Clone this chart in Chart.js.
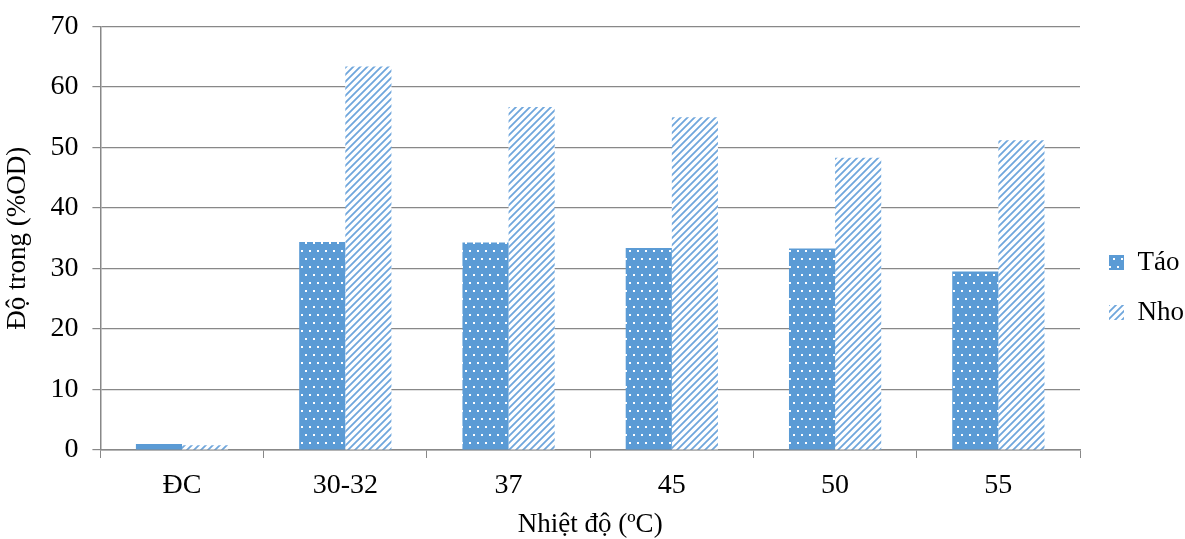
<!DOCTYPE html>
<html>
<head>
<meta charset="utf-8">
<script src="https://cdn.jsdelivr.net/npm/chart.js"></script>
<style>
  html, body { margin: 0; padding: 0; background: #fff; }
  #wrap { width: 1185px; height: 539px; }
</style>
</head>
<body>
<div id="wrap"><canvas id="myChart" width="1185" height="539"></canvas></div>
<script>
    const categories = ['ĐC', '30-32', '37', '45', '50', '55'];
    const taoValues = [1.0, 34.4, 34.3, 33.4, 33.3, 29.5];
    const nhoValues = [0.8, 63.4, 56.7, 55.0, 48.3, 51.2];
    const yTicks = [0, 10, 20, 30, 40, 50, 60, 70];

    const blue = '#5B9BD5';

    // dotted fill for Táo
    function dotPattern() {
        const c = document.createElement('canvas');
        c.width = 8; c.height = 16;
        const g = c.getContext('2d');
        g.fillStyle = blue;
        g.fillRect(0, 0, 8, 16);
        g.fillStyle = '#fff';
        g.fillRect(1, 2, 2, 2);
        g.fillRect(5, 10, 2, 2);
        return g.createPattern(c, 'repeat');
    }

    // diagonal stripes for Nho
    function stripePattern() {
        const c = document.createElement('canvas');
        c.width = 7; c.height = 7;
        const g = c.getContext('2d');
        g.fillStyle = '#fff';
        g.fillRect(0, 0, 7, 7);
        g.strokeStyle = '#6FA6DC';
        g.lineWidth = 1.8;
        g.beginPath();
        g.moveTo(0, 7); g.lineTo(7, 0);
        g.moveTo(-3.5, 3.5); g.lineTo(3.5, -3.5);
        g.moveTo(3.5, 10.5); g.lineTo(10.5, 3.5);
        g.stroke();
        return g.createPattern(c, 'repeat');
    }

    // nudge the legend a bit right and down, like the original
    const legendShift = {
        id: 'legendShift',
        afterLayout(chart) {
            const lg = chart.legend;
            if (!lg) return;
            lg.left += 6; lg.right += 6;
            lg.top += 14; lg.bottom += 14;
        }
    };

    Chart.defaults.font.family = '"Liberation Serif", "Times New Roman", serif';
    Chart.defaults.color = '#000';

    const ctx = document.getElementById('myChart');
    const myChart = new Chart(ctx, {
        type: 'bar',
        data: {
            labels: categories,
            datasets: [{
                label: 'Táo',
                data: taoValues,
                backgroundColor: dotPattern(),
                borderWidth: 0
            },
            {
                label: 'Nho',
                data: nhoValues,
                backgroundColor: stripePattern(),
                borderWidth: 0
            }]
        },
        options: {
            responsive: false,
            animation: false,
            layout: { padding: { top: 6, right: -3, left: 2, bottom: -2 } },
            datasets: {
                bar: { categoryPercentage: 0.565, barPercentage: 1.0 }
            },
            plugins: {
                tooltip: { enabled: false },
                legend: {
                    position: 'right',
                    labels: {
                        boxWidth: 15,
                        boxHeight: 15,
                        padding: 23,
                        font: { size: 27 }
                    }
                }
            },
            scales: {
                x: {
                    grid: {
                        drawOnChartArea: false,
                        drawTicks: true,
                        tickLength: 8,
                        color: '#888'
                    },
                    border: { color: '#888', width: 1.5 },
                    ticks: { font: { size: 28 }, padding: 11 },
                    title: {
                        display: true,
                        text: 'Nhiệt độ (ºC)',
                        font: { size: 27 },
                        padding: { top: -5, bottom: 0 }
                    }
                },
                y: {
                    min: 0,
                    max: 70,
                    afterBuildTicks: (axis) => { axis.ticks = yTicks.map(v => ({ value: v })); },
                    grid: {
                        color: '#888',
                        lineWidth: 1.2,
                        tickLength: 8
                    },
                    border: { color: '#888', width: 1.5 },
                    ticks: { font: { size: 28, lineHeight: 0.9 }, padding: 14 },
                    title: {
                        display: true,
                        text: 'Độ trong (%OD)',
                        font: { size: 27 },
                        padding: { top: 0, bottom: 2 }
                    }
                }
            }
        },
        plugins: [legendShift]
    });
</script>
</body>
</html>
